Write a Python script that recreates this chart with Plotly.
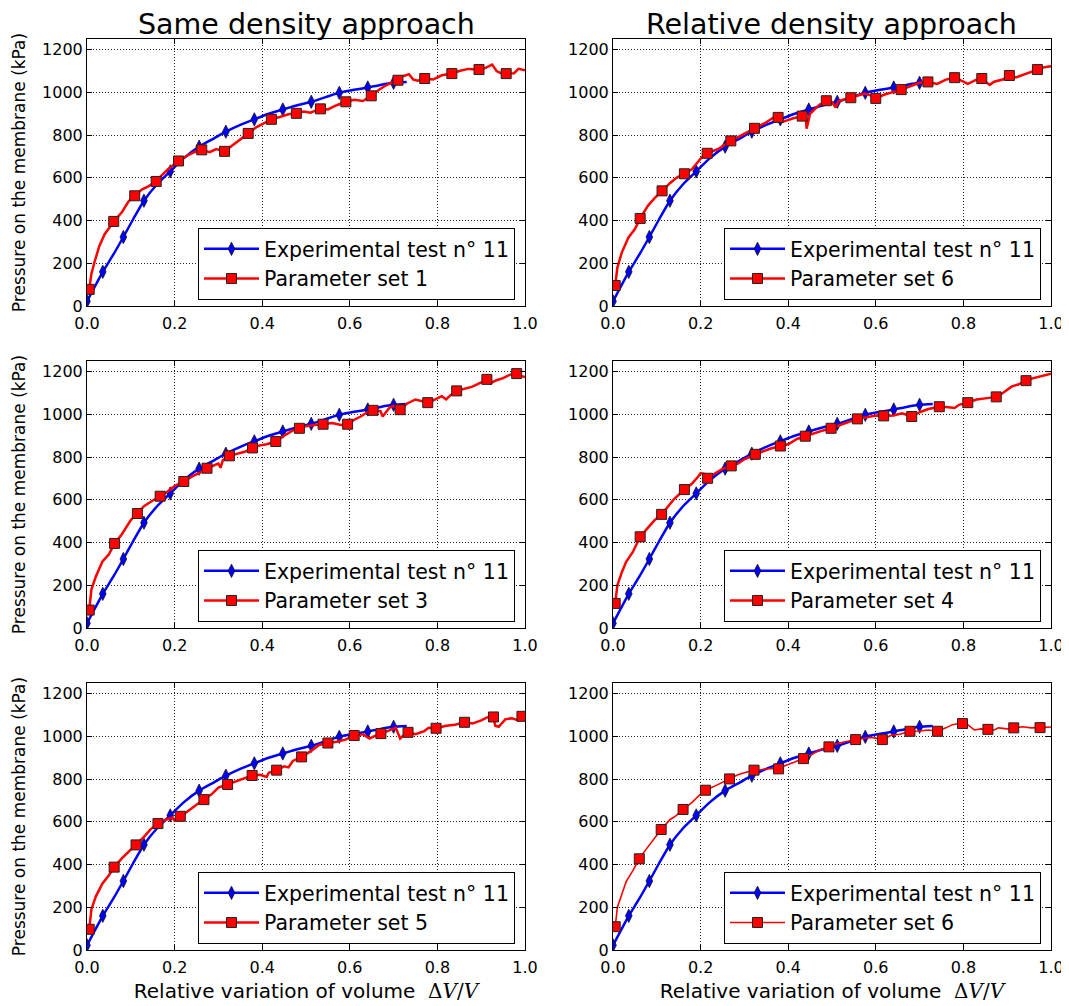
import plotly.graph_objects as go

FONT = "DejaVu Sans"

# ---------------- data ----------------
x_tick_vals = [0.0, 0.2, 0.4, 0.6, 0.8, 1.0]
x_tick_text = ["0.0", "0.2", "0.4", "0.6", "0.8", "1.0"]
y_tick_vals = [0, 200, 400, 600, 800, 1000, 1200]
y_tick_text = ["0", "200", "400", "600", "800", "1000", "1200"]

col_titles = ["Same density approach", "Relative density approach"]
exp_name = "Experimental test n° 11"

# experimental curve (same on every panel)
exp_x = [0.0, 0.036, 0.06, 0.083, 0.105, 0.13, 0.16, 0.19, 0.22, 0.256,
         0.29, 0.317, 0.35, 0.382, 0.415, 0.447, 0.48, 0.512, 0.545, 0.576,
         0.61, 0.641, 0.67, 0.70, 0.73]
exp_y = [22, 160, 240, 323, 405, 493, 570, 630, 690, 746,
         785, 816, 848, 874, 900, 920, 940, 956, 978, 998,
         1012, 1023, 1035, 1045, 1049]
exp_mx = [0.0, 0.036, 0.083, 0.13, 0.19, 0.256, 0.317, 0.382, 0.447, 0.512, 0.576, 0.641, 0.70]
exp_my = [22, 160, 323, 493, 630, 746, 816, 874, 920, 956, 998, 1023, 1045]

# Parameter set 1 (same density)
set1_x = [0.005, 0.01, 0.017, 0.028, 0.04, 0.061, 0.08, 0.095, 0.109, 0.125,
          0.14, 0.158, 0.17, 0.185, 0.2, 0.209, 0.225, 0.245, 0.262, 0.28,
          0.295, 0.314, 0.33, 0.345, 0.368, 0.385, 0.4, 0.421, 0.44, 0.46,
          0.478, 0.495, 0.51, 0.533, 0.55, 0.57, 0.591, 0.61, 0.63, 0.649,
          0.665, 0.68, 0.695, 0.71, 0.72, 0.735, 0.745, 0.755, 0.771, 0.79,
          0.81, 0.833, 0.85, 0.87, 0.895, 0.91, 0.925, 0.935, 0.945, 0.957,
          0.975, 0.985, 1.0]
set1_y = [78, 150, 205, 280, 335, 396, 440, 490, 516, 545,
          560, 583, 610, 640, 665, 679, 700, 720, 731, 720,
          735, 724, 750, 775, 808, 835, 850, 874, 885, 898,
          902, 910, 905, 923, 920, 940, 956, 965, 960, 984,
          1010, 1030, 1045, 1057, 1075, 1085, 1060, 1055, 1065, 1060,
          1080, 1088, 1100, 1110, 1107, 1115, 1130, 1100, 1090, 1088,
          1090, 1110, 1104]
set1_mx = [0.005, 0.061, 0.109, 0.158, 0.209, 0.262, 0.314, 0.368, 0.421, 0.478,
           0.533, 0.591, 0.649, 0.71, 0.771, 0.833, 0.895, 0.957]
set1_my = [78, 396, 516, 583, 679, 731, 724, 808, 874, 902,
           923, 956, 984, 1057, 1065, 1088, 1107, 1088]

# Parameter set 6 (relative density, top)
set6a_x = [0.005, 0.01, 0.02, 0.035, 0.05, 0.062, 0.08, 0.095, 0.112, 0.13,
           0.145, 0.163, 0.18, 0.19, 0.2, 0.215, 0.24, 0.269, 0.29, 0.31,
           0.323, 0.35, 0.365, 0.377, 0.387, 0.41, 0.432, 0.44, 0.442, 0.45,
           0.47, 0.487, 0.5, 0.508, 0.515, 0.543, 0.56, 0.575, 0.59, 0.6,
           0.62, 0.658, 0.68, 0.7, 0.719, 0.74, 0.76, 0.78, 0.8, 0.81,
           0.83, 0.842, 0.86, 0.87, 0.89, 0.905, 0.92, 0.94, 0.969, 0.985,
           1.0]
set6a_y = [96, 180, 250, 320, 360, 410, 470, 505, 539, 575,
           600, 619, 640, 665, 690, 715, 735, 773, 795, 815,
           832, 860, 880, 883, 862, 878, 889, 893, 830, 900,
           940, 961, 955, 930, 960, 975, 985, 995, 985, 972,
           990, 1013, 1030, 1045, 1049, 1040, 1060, 1069, 1050, 1040,
           1060, 1065, 1035, 1050, 1060, 1079, 1070, 1085, 1107, 1118,
           1122]
set6a_mx = [0.005, 0.062, 0.112, 0.163, 0.215, 0.269, 0.323, 0.377, 0.432, 0.487,
            0.543, 0.6, 0.658, 0.719, 0.78, 0.842, 0.905, 0.969]
set6a_my = [96, 410, 539, 619, 715, 773, 832, 883, 889, 961,
            975, 972, 1013, 1049, 1069, 1065, 1079, 1107]

# Parameter set 3 (same density)
set3_x = [0.005, 0.01, 0.02, 0.035, 0.05, 0.063, 0.08, 0.1, 0.115, 0.13,
          0.145, 0.167, 0.185, 0.2, 0.221, 0.24, 0.26, 0.274, 0.29, 0.3,
          0.305, 0.31, 0.325, 0.34, 0.36, 0.378, 0.395, 0.41, 0.431, 0.45,
          0.47, 0.485, 0.5, 0.52, 0.539, 0.56, 0.58, 0.595, 0.61, 0.625,
          0.64, 0.653, 0.67, 0.675, 0.69, 0.7, 0.715, 0.73, 0.75, 0.765,
          0.778, 0.795, 0.81, 0.82, 0.83, 0.844, 0.86, 0.88, 0.9, 0.913,
          0.92, 0.935, 0.95, 0.965, 0.981, 0.99, 1.0]
set3_y = [84, 180, 240, 310, 345, 396, 440, 505, 536, 570,
          590, 617, 640, 665, 686, 710, 730, 748, 760, 770,
          750, 785, 806, 815, 825, 843, 855, 860, 873, 900,
          925, 935, 945, 950, 954, 960, 950, 954, 975, 990,
          1010, 1019, 1015, 990, 1030, 1040, 1022, 1050, 1070, 1060,
          1055, 1070, 1085, 1070, 1090, 1110, 1120, 1130, 1150, 1164,
          1145, 1160, 1170, 1185, 1191, 1180, 1175]
set3_mx = [0.005, 0.063, 0.115, 0.167, 0.221, 0.274, 0.325, 0.378, 0.431, 0.485,
           0.539, 0.595, 0.653, 0.715, 0.778, 0.844, 0.913, 0.981]
set3_my = [84, 396, 536, 617, 686, 748, 806, 843, 873, 935,
           954, 954, 1019, 1022, 1055, 1110, 1164, 1191]

# Parameter set 4 (relative density)
set4_x = [0.005, 0.01, 0.02, 0.03, 0.045, 0.062, 0.08, 0.095, 0.111, 0.125,
          0.14, 0.163, 0.18, 0.195, 0.2, 0.21, 0.216, 0.23, 0.25, 0.27,
          0.285, 0.3, 0.325, 0.34, 0.36, 0.382, 0.4, 0.42, 0.439, 0.46,
          0.48, 0.498, 0.52, 0.54, 0.558, 0.575, 0.6, 0.618, 0.64, 0.66,
          0.682, 0.7, 0.72, 0.745, 0.76, 0.78, 0.79, 0.81, 0.83, 0.85,
          0.875, 0.89, 0.91, 0.925, 0.943, 0.96, 0.98, 1.0]
set4_y = [115, 200, 260, 310, 355, 427, 470, 505, 532, 570,
          605, 648, 675, 710, 725, 720, 701, 720, 745, 759,
          770, 790, 813, 825, 840, 852, 860, 885, 898, 915,
          925, 935, 950, 965, 979, 985, 995, 993, 995, 1005,
          990, 1010, 1025, 1036, 1035, 1030, 1045, 1055, 1070, 1075,
          1082, 1100, 1130, 1140, 1158, 1170, 1180, 1191]
set4_mx = [0.005, 0.062, 0.111, 0.163, 0.216, 0.27, 0.325, 0.382, 0.439, 0.498,
           0.558, 0.618, 0.682, 0.745, 0.81, 0.875, 0.943]
set4_my = [115, 427, 532, 648, 701, 759, 813, 852, 898, 935,
           979, 993, 990, 1036, 1055, 1082, 1158]

# Parameter set 5 (same density)
set5_x = [0.005, 0.01, 0.02, 0.035, 0.05, 0.062, 0.08, 0.095, 0.112, 0.13,
          0.145, 0.162, 0.18, 0.195, 0.2, 0.213, 0.23, 0.25, 0.267, 0.285,
          0.3, 0.321, 0.34, 0.355, 0.377, 0.395, 0.41, 0.415, 0.433, 0.45,
          0.46, 0.47, 0.49, 0.51, 0.53, 0.55, 0.57, 0.59, 0.61, 0.63,
          0.645, 0.655, 0.671, 0.69, 0.705, 0.715, 0.725, 0.733, 0.75, 0.77,
          0.78, 0.797, 0.82, 0.84, 0.862, 0.88, 0.9, 0.915, 0.928, 0.932,
          0.94, 0.955, 0.97, 0.985, 0.993, 1.0]
set5_y = [97, 190, 250, 310, 350, 388, 430, 460, 492, 530,
          565, 592, 610, 620, 605, 626, 650, 680, 704, 730,
          760, 775, 790, 800, 817, 820, 810, 830, 842, 860,
          855, 885, 904, 930, 960, 969, 975, 985, 1004, 1010,
          990, 1000, 1013, 1030, 1040, 990, 1010, 1019, 1010, 1025,
          1040, 1038, 1050, 1055, 1066, 1060, 1075, 1090, 1091, 1050,
          1045, 1080, 1085, 1075, 1094, 1095]
set5_mx = [0.005, 0.062, 0.112, 0.162, 0.213, 0.267, 0.321, 0.377, 0.433, 0.49,
           0.55, 0.61, 0.671, 0.733, 0.797, 0.862, 0.928, 0.993]
set5_my = [97, 388, 492, 592, 626, 704, 775, 817, 842, 904,
           969, 1004, 1013, 1019, 1038, 1066, 1091, 1094]

# Parameter set 6 (relative density, bottom)
set6b_x = [0.005, 0.01, 0.02, 0.03, 0.045, 0.06, 0.075, 0.09, 0.11, 0.13,
           0.145, 0.16, 0.18, 0.195, 0.211, 0.23, 0.25, 0.266, 0.285, 0.3,
           0.322, 0.34, 0.36, 0.378, 0.395, 0.415, 0.435, 0.45, 0.47, 0.493,
           0.51, 0.53, 0.554, 0.57, 0.59, 0.6, 0.615, 0.635, 0.655, 0.678,
           0.7, 0.72, 0.741, 0.76, 0.775, 0.79, 0.798, 0.81, 0.825, 0.84,
           0.856, 0.87, 0.88, 0.9, 0.915, 0.935, 0.955, 0.975, 0.99, 1.0]
set6b_y = [109, 200, 260, 320, 370, 427, 470, 510, 564, 610,
           630, 658, 690, 720, 748, 765, 785, 801, 820, 830,
           842, 845, 850, 848, 865, 880, 896, 910, 935, 951,
           965, 975, 985, 990, 995, 990, 985, 1005, 1010, 1024,
           1025, 1030, 1024, 1040, 1055, 1060, 1060, 1055, 1030, 1035,
           1033, 1030, 1040, 1035, 1040, 1045, 1040, 1041, 1040, 1044]
set6b_mx = [0.005, 0.06, 0.11, 0.16, 0.211, 0.266, 0.322, 0.378, 0.435, 0.493,
            0.554, 0.615, 0.678, 0.741, 0.798, 0.856, 0.915, 0.975]
set6b_my = [109, 427, 564, 658, 748, 801, 842, 848, 896, 951,
            985, 985, 1024, 1024, 1060, 1033, 1040, 1041]

# ---------------- layout helpers ----------------
FIG_W, FIG_H = 1061, 998   # page has an 8px body margin
XD = [[0.07446, 0.48728], [0.57022, 0.98303]]
YD = [[0.70140, 0.96894], [0.37876, 0.64629], [0.05611, 0.32365]]
LEG_X = [0.47785, 0.97361]
LEG_Y = [0.70742, 0.38478, 0.06213]

panels = [
    (0, 0, "Parameter set 1", set1_x, set1_y, set1_mx, set1_my, 2.5),
    (0, 1, "Parameter set 6", set6a_x, set6a_y, set6a_mx, set6a_my, 2.5),
    (1, 0, "Parameter set 3", set3_x, set3_y, set3_mx, set3_my, 2.5),
    (1, 1, "Parameter set 4", set4_x, set4_y, set4_mx, set4_my, 2.5),
    (2, 0, "Parameter set 5", set5_x, set5_y, set5_mx, set5_my, 2.5),
    (2, 1, "Parameter set 6", set6b_x, set6b_y, set6b_mx, set6b_my, 1.6),
]


def gapped(xs, ys):
    gx, gy = [], []
    for a, b in zip(xs, ys):
        gx += [a, None]
        gy += [b, None]
    return gx, gy


BLUE = "#0000ff"
RED = "#ff0000"

fig = go.Figure()
layout = {}

axis_common = dict(
    showline=True, linecolor="black", linewidth=1, mirror="ticks",
    ticks="inside", ticklen=5, tickwidth=1, tickcolor="black",
    showgrid=True, gridcolor="#222222", gridwidth=0.8, griddash="1px,2px",
    zeroline=False, automargin=False,
    tickfont=dict(family=FONT, size=16, color="black"),
)

for k, (r, c, name, rx, ry, rmx, rmy, rw) in enumerate(panels, start=1):
    sfx = "" if k == 1 else str(k)
    xa, ya = "x" + sfx, "y" + sfx
    lg = "legend" + sfx

    # experimental
    fig.add_trace(go.Scatter(
        x=exp_x, y=exp_y, mode="lines", xaxis=xa, yaxis=ya, showlegend=False,
        line=dict(color=BLUE, width=2.5, shape="spline", smoothing=0.6), hoverinfo="skip"))
    gx, gy = gapped(exp_mx, exp_my)
    fig.add_trace(go.Scatter(
        x=gx, y=gy, mode="lines+markers", name=exp_name, xaxis=xa, yaxis=ya,
        legend=lg, connectgaps=False,
        line=dict(color=BLUE, width=2.5),
        marker=dict(symbol="diamond-tall", size=9.5, color=BLUE,
                    line=dict(color="#111111", width=0.8))))
    # simulation
    fig.add_trace(go.Scatter(
        x=rx, y=ry, mode="lines", xaxis=xa, yaxis=ya, showlegend=False,
        line=dict(color=RED, width=rw), hoverinfo="skip"))
    gx, gy = gapped(rmx, rmy)
    fig.add_trace(go.Scatter(
        x=gx, y=gy, mode="lines+markers", name=name, xaxis=xa, yaxis=ya,
        legend=lg, connectgaps=False,
        line=dict(color=RED, width=rw),
        marker=dict(symbol="square", size=10, color=RED,
                    line=dict(color="#222222", width=1))))

    xaxis = dict(domain=XD[c], anchor=ya, range=[0, 1], tickvals=x_tick_vals,
                 ticktext=x_tick_text, ticklabelstandoff=3, **axis_common)
    yaxis = dict(domain=YD[r], anchor=xa, range=[0, 1250], tickvals=y_tick_vals,
                 ticktext=y_tick_text, **axis_common)
    if c == 0:
        yaxis["title"] = dict(text="Pressure on the membrane (kPa)",
                              font=dict(family=FONT, size=17, color="black"), standoff=12)
    if r == 2:
        xaxis["title"] = dict(
            text="Relative variation of volume  <span style='font-family:DejaVu Serif'>Δ<i>V</i>/<i>V</i></span>",
            font=dict(family=FONT, size=20, color="black"), standoff=7)
    layout["xaxis" + sfx] = xaxis
    layout["yaxis" + sfx] = yaxis
    layout[lg] = dict(
        x=LEG_X[c], y=LEG_Y[r], xanchor="right", yanchor="bottom",
        bgcolor="white", bordercolor="black", borderwidth=1,
        font=dict(family=FONT, size=20.5, color="black"), itemwidth=55,
        traceorder="normal")

annotations = []
for c, t in enumerate(col_titles):
    annotations.append(dict(
        text=t, x=(XD[c][0] + XD[c][1]) / 2, y=0.98347, xref="paper", yref="paper",
        xanchor="center", yanchor="middle", showarrow=False,
        font=dict(family=FONT, size=28.5, color="black")))

fig.update_layout(
    width=FIG_W, height=FIG_H,
    margin=dict(l=0, r=0, t=0, b=0, autoexpand=False),
    paper_bgcolor="white", plot_bgcolor="white",
    font=dict(family=FONT, color="black"),
    annotations=annotations,
    **layout,
)

fig.write_html("out.html")
